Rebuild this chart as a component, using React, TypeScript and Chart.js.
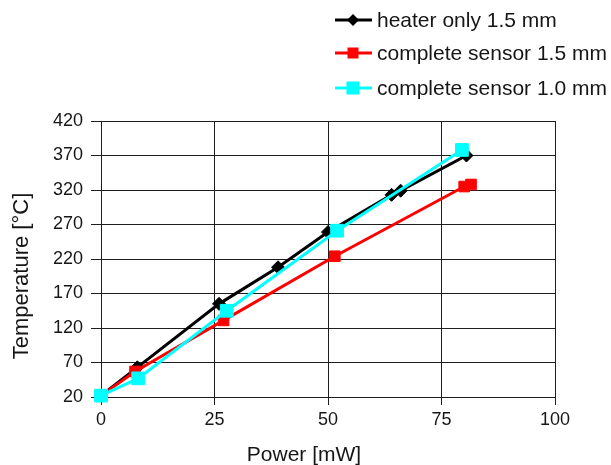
import React, { useEffect, useRef } from 'react';
import { Chart, registerables } from 'chart.js';

Chart.register(...registerables);

// ---- data ----
const seriesLabels = ['heater only 1.5 mm', 'complete sensor 1.5 mm', 'complete sensor 1.0 mm'];

const heaterPower = [0, 8, 26, 39, 50, 64, 66, 80.5];
const heaterTemp = [22, 63, 155, 208, 259, 313, 319, 370];

const sensor15Power = [0, 7.5, 27, 51.5, 80, 81.5];
const sensor15Temp = [22, 57, 131, 224, 325, 328];

const sensor10Power = [0, 8.2, 27.7, 52, 79.5];
const sensor10Temp = [22, 47, 145, 261, 378];

const xTicks = [0, 25, 50, 75, 100];
const yTicks = [20, 70, 120, 170, 220, 270, 320, 370, 420];

const xTitle = 'Power [mW]';
const yTitle = 'Temperature [°C]';

const FONT = "'Liberation Sans', Arial, Helvetica, sans-serif";
const TEXT = '#161616';
const GRID = '#1e1e1e';

const colors = ['#000000', '#ff0000', '#00ffff'];
const shapes = ['diamond', 'square', 'square'];

const toPts = (xs: number[], ys: number[]) => xs.map((x, i) => ({ x, y: ys[i] }));

const overlay = {
  id: 'overlay',
  afterDraw(chart: any) {
    const ctx = chart.ctx as CanvasRenderingContext2D;
    ctx.save();
    // axis titles
    ctx.fillStyle = TEXT;
    ctx.font = `21px ${FONT}`;
    ctx.textAlign = 'center';
    ctx.textBaseline = 'alphabetic';
    ctx.fillText(xTitle, 304, 461);
    ctx.save();
    ctx.translate(28, 276);
    ctx.rotate(-Math.PI / 2);
    ctx.font = `22px ${FONT}`;
    ctx.fillText(yTitle, 0, 0);
    ctx.restore();

    // legend
    const rowsY = [20, 53, 88];
    const sizes = [6, 5.5, 6.5];
    seriesLabels.forEach((label, i) => {
      const y = rowsY[i];
      ctx.strokeStyle = colors[i];
      ctx.lineWidth = 3;
      ctx.beginPath();
      ctx.moveTo(335, y);
      ctx.lineTo(372, y);
      ctx.stroke();
      ctx.fillStyle = colors[i];
      const s = sizes[i];
      const cx = 353;
      ctx.beginPath();
      if (shapes[i] === 'diamond') {
        ctx.moveTo(cx, y - s);
        ctx.lineTo(cx + s, y);
        ctx.lineTo(cx, y + s);
        ctx.lineTo(cx - s, y);
        ctx.closePath();
      } else {
        ctx.rect(cx - s, y - s, 2 * s, 2 * s);
      }
      ctx.fill();
      ctx.fillStyle = TEXT;
      ctx.font = `21px ${FONT}`;
      ctx.textAlign = 'left';
      ctx.textBaseline = 'middle';
      ctx.fillText(label, 377, y + 1);
    });
    ctx.restore();
  },
};

export default function App() {
  const ref = useRef<HTMLCanvasElement>(null);

  useEffect(() => {
    const canvas = ref.current;
    if (!canvas) return;
    const mk = (i: number, data: any[], style: string, radius: number, order: number) => ({
      label: seriesLabels[i],
      data,
      borderColor: colors[i],
      backgroundColor: colors[i],
      pointBackgroundColor: colors[i],
      pointBorderColor: colors[i],
      borderWidth: 3,
      pointStyle: style,
      pointRadius: radius,
      pointBorderWidth: 1,
      tension: 0,
      clip: false,
      order,
    });
    const chart = new Chart(canvas, {
      type: 'line',
      data: {
        datasets: [
          mk(0, toPts(heaterPower, heaterTemp), 'rectRot', 6.5, 3),
          mk(1, toPts(sensor15Power, sensor15Temp), 'rect', 7.5, 2),
          mk(2, toPts(sensor10Power, sensor10Temp), 'rect', 9, 1),
        ] as any,
      },
      options: {
        responsive: false,
        animation: false,
        layout: { padding: { top: 121, right: 56, left: 0, bottom: 0 } },
        plugins: { legend: { display: false }, tooltip: { enabled: false } },
        scales: {
          x: {
            type: 'linear',
            min: xTicks[0],
            max: xTicks[xTicks.length - 1],
            afterBuildTicks: (s: any) => {
              s.ticks = xTicks.map((v) => ({ value: v }));
            },
            ticks: { font: { family: FONT, size: 18 }, color: TEXT, padding: 4, maxRotation: 0 },
            grid: { color: GRID, lineWidth: 1, tickLength: 8, tickColor: GRID, drawTicks: true },
            border: { color: GRID, width: 1 },
            afterFit: (s: any) => {
              s.height = 68;
            },
          },
          y: {
            type: 'linear',
            min: yTicks[0],
            max: yTicks[yTicks.length - 1],
            afterBuildTicks: (s: any) => {
              s.ticks = yTicks.map((v) => ({ value: v }));
            },
            ticks: { font: { family: FONT, size: 18 }, color: TEXT, padding: 8 },
            grid: { color: GRID, lineWidth: 1, tickLength: 10, tickColor: GRID, drawTicks: true },
            border: { color: GRID, width: 1 },
            afterFit: (s: any) => {
              s.width = 101;
            },
          },
        },
      } as any,
      plugins: [overlay],
    });
    return () => chart.destroy();
  }, []);

  return (
    <div style={{ position: 'absolute', left: 0, top: 0, width: 611, height: 465, background: '#fff' }}>
      <canvas ref={ref} width={611} height={465} style={{ display: 'block' }} />
    </div>
  );
}
